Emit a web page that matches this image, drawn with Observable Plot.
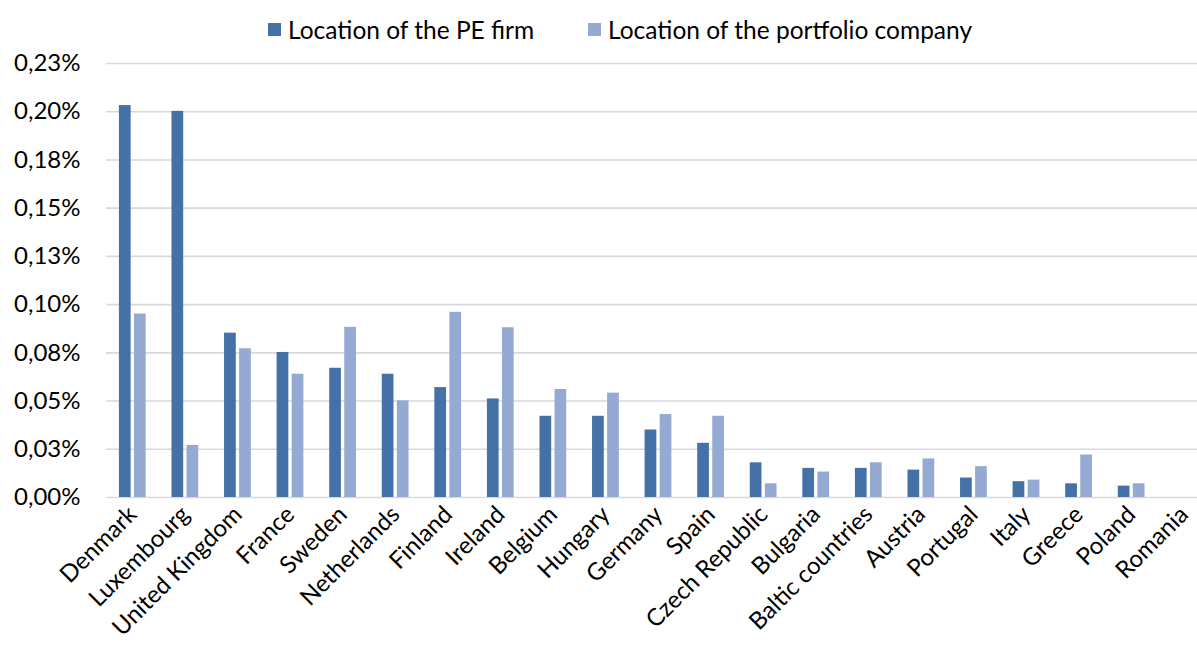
<!DOCTYPE html>
<html>
<head>
<meta charset="utf-8">
<script src="https://cdn.jsdelivr.net/npm/d3@7"></script>
<script src="https://cdn.jsdelivr.net/npm/@observablehq/plot@0.6"></script>
<style>
  html, body { margin: 0; padding: 0; background: #fff; overflow: hidden; width: 1197px; height: 650px; }
  #legend { height: 48px; position: relative; font-family: Lato, "Open Sans", sans-serif; font-size: 24.5px; color: #000; }
  .item { position: absolute; top: 15px; display: flex; align-items: center; white-space: nowrap; }
  .sw { width: 13px; height: 13px; margin-right: 7px; }
  #chart { width: 1197px; overflow: hidden; }
  #chart svg { font-family: Lato, "Open Sans", sans-serif; max-width: none !important; }
</style>
</head>
<body>
<div id="legend"></div>
<div id="chart"></div>
<script>
const countries = ["Denmark","Luxembourg","United Kingdom","France","Sweden","Netherlands","Finland","Ireland","Belgium","Hungary","Germany","Spain","Czech Republic","Bulgaria","Baltic countries","Austria","Portugal","Italy","Greece","Poland","Romania"];
const peFirm =    [0.2032,0.2002,0.0852,0.0752,0.0670,0.0639,0.0570,0.0511,0.0421,0.0421,0.0350,0.0281,0.0180,0.0151,0.0151,0.0142,0.0101,0.0082,0.0071,0.0059,0];
const portfolio = [0.0951,0.0270,0.0771,0.0639,0.0882,0.0501,0.0960,0.0880,0.0560,0.0541,0.0430,0.0421,0.0071,0.0132,0.0180,0.0200,0.0160,0.0090,0.0220,0.0071,0];
const seriesNames = ["Location of the PE firm","Location of the portfolio company"];
const seriesColors = ["#4472a8","#95aad2"];
const yTicks = [0,0.025,0.05,0.075,0.1,0.125,0.15,0.175,0.2,0.225];
const yTickLabels = ["0,00%","0,03%","0,05%","0,08%","0,10%","0,13%","0,15%","0,18%","0,20%","0,23%"];

const data = countries.map((c, i) => ({country: c, pe: peFirm[i], pc: portfolio[i]}));

// legend
const legend = document.getElementById("legend");
const lefts = [268, 588];
seriesNames.forEach((n, i) => {
  const it = document.createElement("div");
  it.className = "item";
  it.style.left = lefts[i] + "px";
  it.innerHTML = `<span class="sw" style="background:${seriesColors[i]}"></span><span>${n}</span>`;
  legend.appendChild(it);
});

const chart = Plot.plot({
  width: 1210,
  height: 602,
  marginTop: 15,
  marginBottom: 153,
  marginLeft: 106,
  marginRight: 0,
  style: {overflow: "hidden", maxWidth: "none"},
  x: {type: "band", domain: countries, padding: 0, round: false, label: null},
  y: {domain: [0, 0.225], label: null},
  marks: [
    Plot.gridY(yTicks, {stroke: "#d9d9d9", strokeOpacity: 1, strokeWidth: 1.6}),
    Plot.barY(data, {x: "country", y: "pe", fill: seriesColors[0], insetLeft: 12.9, insetRight: 27.95}),
    Plot.barY(data, {x: "country", y: "pc", fill: seriesColors[1], insetLeft: 27.95, insetRight: 12.9}),
    Plot.axisY({ticks: yTicks, tickFormat: (d) => yTickLabels[yTicks.indexOf(d)], tickSize: 0, tickPadding: 26, fontSize: 24, label: null}),
    Plot.axisX({tickSize: 0, tickRotate: -45, tickPadding: 13, fontSize: 24, label: null})
  ]
});
document.getElementById("chart").appendChild(chart);
</script>
</body>
</html>
